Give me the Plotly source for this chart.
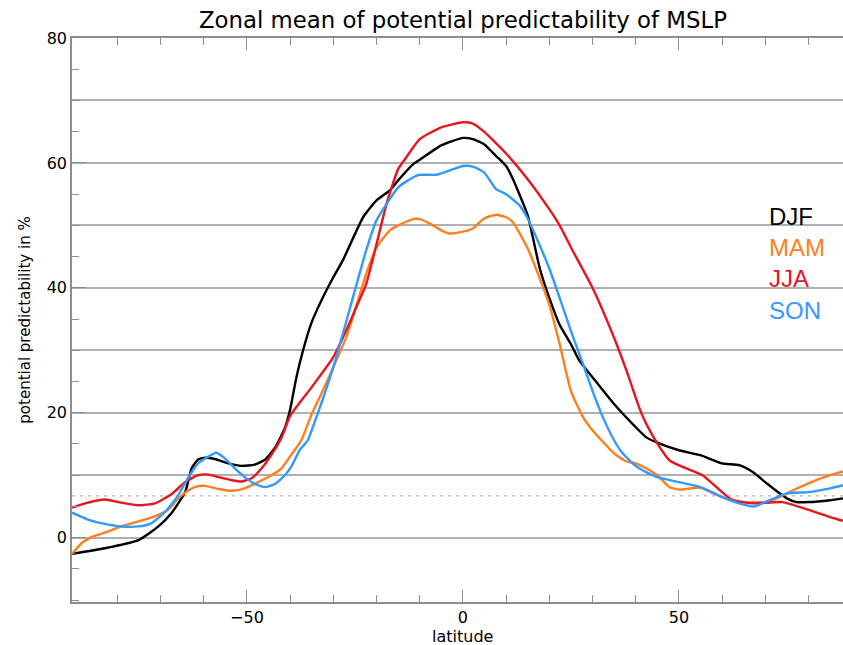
import plotly.graph_objects as go

# Zonal means of potential predictability (%) per season, against latitude
lat_djf = [-90.5, -82.9, -75.1, -70.5, -67.4, -64.3, -62.8, -61.3, -59.7, -57.4, -54.3, -51.2,
           -48.2, -45.8, -43.5, -41.2, -40.0, -38.6, -37.0, -35.0, -32.4, -30.0, -27.8, -25.0,
           -23.1, -20.0, -16.9, -15.0, -11.5, -10.0, -5.0, 0.0, 2.3, 4.9, 7.7, 10.0, 11.6, 15.0,
           17.8, 20.0, 22.4, 25.0, 27.0, 30.0, 35.0, 40.0, 42.4, 45.0, 50.0, 55.0, 60.0,
           64.0, 67.1, 70.0, 73.3, 75.0, 77.2, 80.0, 85.0, 88.0]
djf = [-2.6, -1.7, -0.4, 1.8, 4.0, 7.3, 11.1, 12.5, 12.8, 12.6, 11.9, 11.5,
       11.7, 12.5, 14.4, 17.6, 20.5, 25.5, 30.0, 34.5, 38.5, 41.7, 44.4, 48.6,
       51.3, 54.0, 55.6, 57.2, 59.8, 60.5, 62.8, 64.0, 63.8, 63.0, 61.1, 59.5, 57.4, 51.6,
       43.1, 38.4, 34.1, 31.0, 28.3, 25.7, 21.4, 17.7, 16.1, 15.2, 14.0, 13.2, 11.9,
       11.6, 10.5, 8.9, 7.1, 6.3, 5.7, 5.7, 6.0, 6.3]

lat_mam = [-90.5, -88.3, -86.0, -82.9, -79.1, -75.1, -71.3, -68.2, -66.0, -63.7, -62.1, -59.7,
           -56.6, -53.5, -50.5, -47.4, -44.3, -42.0, -39.7, -37.4, -35.0, -32.4, -30.0, -27.0,
           -25.0, -22.4, -20.0, -16.9, -15.0, -11.5, -10.0, -6.9, -5.0, -3.1, 0.0, 2.3, 4.9,
           7.7, 10.0, 11.6, 15.0, 17.8, 20.0, 22.4, 25.0, 27.8, 30.0, 35.0, 37.8, 40.0, 43.2,
           45.0, 47.8, 50.2, 55.0, 60.0, 65.0, 70.0, 73.3, 75.0, 80.0, 85.0, 88.0]
mam = [-2.6, -0.9, 0.1, 0.8, 1.8, 2.6, 3.4, 4.5, 6.2, 7.5, 8.1, 8.3,
       7.8, 7.5, 7.9, 8.9, 10.0, 11.1, 13.3, 15.6, 19.8, 23.6, 27.3, 32.1,
       36.4, 42.2, 46.5, 49.2, 50.0, 51.0, 51.0, 50.0, 49.2, 48.7, 49.0, 49.5, 51.1,
       51.7, 51.3, 50.5, 46.3, 41.5, 37.3, 31.0, 23.5, 19.3, 17.2, 13.5, 12.2, 11.9, 10.8,
       10.0, 8.1, 7.7, 8.0, 6.5, 5.7, 5.7, 6.5, 7.1, 8.7, 10.0, 10.6]

lat_jja = [-90.5, -86.8, -82.9, -79.1, -75.1, -71.3, -67.4, -64.3, -61.3, -58.9, -56.6, -53.5,
           -51.2, -48.9, -46.6, -44.3, -42.0, -40.0, -35.0, -30.0, -27.0, -25.0, -22.4, -20.0,
           -17.7, -15.0, -13.1, -10.0, -5.0, 0.0, 2.3, 4.9, 10.0, 15.0, 20.0, 22.4, 25.0, 30.0,
           35.0, 38.0, 41.0, 42.4, 45.0, 47.8, 51.0, 55.5, 58.7, 62.4, 67.0, 74.0,
           80.3, 85.0, 88.0]
jja = [4.8, 5.6, 6.1, 5.6, 5.2, 5.5, 7.0, 8.9, 10.0, 10.1, 9.7, 9.2,
       9.0, 9.5, 11.1, 13.3, 16.0, 19.5, 24.1, 28.9, 33.2, 36.4, 40.6, 47.0,
       53.4, 59.0, 60.9, 63.8, 65.7, 66.5, 66.3, 65.0, 61.5, 57.4, 52.6, 50.0, 46.5, 40.0,
       32.0, 26.5, 20.5, 18.3, 15.1, 12.4, 11.3, 10.0, 8.1, 6.0, 5.5, 5.7,
       4.4, 3.3, 2.7]

lat_son = [-90.5, -86.8, -82.9, -79.1, -75.1, -72.2, -69.1, -66.0, -63.7, -61.3, -59.4, -57.1,
           -55.1, -52.8, -50.5, -48.2, -45.8, -43.5, -41.2, -39.7, -37.8, -35.9, -35.0, -30.0,
           -25.0, -22.4, -20.0, -17.7, -15.0, -11.5, -10.0, -6.2, -2.3, 0.0, 2.3, 4.9, 7.7,
           10.0, 13.1, 15.0, 17.8, 20.0, 22.4, 25.0, 27.8, 30.0, 32.4, 35.0, 37.0, 40.0, 42.4,
           45.0, 50.0, 55.0, 60.0, 65.0, 67.5, 70.0, 75.0, 80.0, 85.0, 88.0]
son = [4.0, 2.9, 2.2, 1.8, 1.8, 2.3, 4.0, 6.7, 9.5, 11.9, 12.8, 13.6,
       12.7, 11.1, 9.7, 8.6, 8.1, 8.6, 10.0, 11.4, 14.0, 15.6, 17.2, 27.3,
       39.6, 46.0, 50.8, 53.4, 56.1, 57.7, 58.1, 58.1, 59.0, 59.5, 59.4, 58.5, 55.8,
       55.0, 53.2, 51.1, 46.8, 43.1, 38.4, 33.1, 27.8, 23.5, 19.3, 15.6, 13.5, 11.5, 10.5,
       9.7, 8.9, 8.1, 6.5, 5.3, 5.0, 5.7, 7.1, 7.3, 7.9, 8.4]

season_names = ["DJF", "MAM", "JJA", "SON"]
season_colors = ["#000000", "#ff7f1e", "#e8141e", "#3399ff"]

# significance level drawn as a dotted horizontal line
significance_level = 6.7

y_tick_values = [0, 20, 40, 60, 80]
y_grid_values = [0, 10, 20, 30, 40, 50, 60, 70, 80]
x_tick_values = [-50, 0, 50]
x_minor_values = [-80, -70, -60, -40, -30, -20, -10, 10, 20, 30, 40, 60, 70, 80]

x_range = [-90.5, 88.0]
y_range = [-10.3, 80.0]

axis_grey = "#8c8c8c"

fig = go.Figure()

for name, lats, vals, col in zip(season_names,
                                 [lat_djf, lat_mam, lat_jja, lat_son],
                                 [djf, mam, jja, son],
                                 season_colors):
    fig.add_trace(go.Scatter(x=lats, y=vals, mode="lines", name=name,
                             line=dict(color=col, width=2.4, shape="spline", smoothing=0.5),
                             hoverinfo="skip"))

fig.add_shape(type="line", xref="paper", x0=0, x1=1, yref="y",
              y0=significance_level, y1=significance_level, layer="below",
              line=dict(color="#b4b4b4", width=1.2, dash="3px,5px"))

fig.update_layout(
    width=843, height=645,
    margin=dict(l=72, r=0, t=38, b=43, pad=0),
    paper_bgcolor="white", plot_bgcolor="white",
    showlegend=False,
    font=dict(family="DejaVu Sans", color="black", size=16),
    xaxis=dict(range=x_range, tickvals=x_tick_values, ticks="inside", ticklen=12,
               tickwidth=1.2, tickcolor=axis_grey, showline=True, linecolor=axis_grey,
               linewidth=1.5, mirror="ticks", showgrid=False, zeroline=False,
               tickfont=dict(size=16), automargin=False,
               minor=dict(tickvals=x_minor_values, ticks="inside", ticklen=7,
                          tickwidth=1.2, tickcolor=axis_grey, showgrid=False)),
    yaxis=dict(range=y_range, tickvals=y_grid_values,
               ticktext=[str(v) if v in y_tick_values else "" for v in y_grid_values],
               ticks="inside", ticklen=7, tickwidth=1.2, tickcolor=axis_grey,
               showline=True, linecolor=axis_grey, linewidth=1.5, mirror=False,
               showgrid=True, gridcolor="#b0b0b0", gridwidth=1.6, zeroline=False,
               tickfont=dict(size=16), automargin=False,
               minor=dict(dtick=5, tick0=0, ticks="inside", ticklen=7,
                          tickwidth=1.2, tickcolor=axis_grey, showgrid=False)),
    yaxis2=dict(range=y_range, overlaying="y", side="left", tickvals=y_tick_values,
                ticks="inside", ticklen=14, tickwidth=1.2, tickcolor=axis_grey,
                showticklabels=False, showgrid=False, zeroline=False, showline=False),
)

# an invisible trace so the tick-only axis is drawn
fig.add_trace(go.Scatter(x=[x_range[0]], y=[y_range[0]], yaxis="y2", mode="markers",
                         marker=dict(opacity=0), hoverinfo="skip", showlegend=False))

annotations = [
    dict(text="Zonal mean of potential predictability of MSLP", x=0, xref="x",
         y=1.032, yref="paper", yanchor="middle", xanchor="center", showarrow=False,
         font=dict(size=22.8, family="DejaVu Sans")),
    dict(text="latitude", x=0, xref="x", y=-0.061, yref="paper", yanchor="middle",
         xanchor="center", showarrow=False, font=dict(size=16)),
    dict(text="potential predictability in %", x=-0.0614, xref="paper", y=0.5,
         yref="paper", textangle=-90, xanchor="center", yanchor="middle",
         showarrow=False, font=dict(size=15)),
]
legend_y = [0.683, 0.628, 0.573, 0.516]
for name, col, ly in zip(season_names, season_colors, legend_y):
    annotations.append(dict(text=name, x=0.901, xref="paper", y=ly, yref="paper",
                            xanchor="left", yanchor="middle", showarrow=False,
                            font=dict(size=24, family="Liberation Sans", color=col)))
fig.update_layout(annotations=annotations)

fig.write_html("out.html")
